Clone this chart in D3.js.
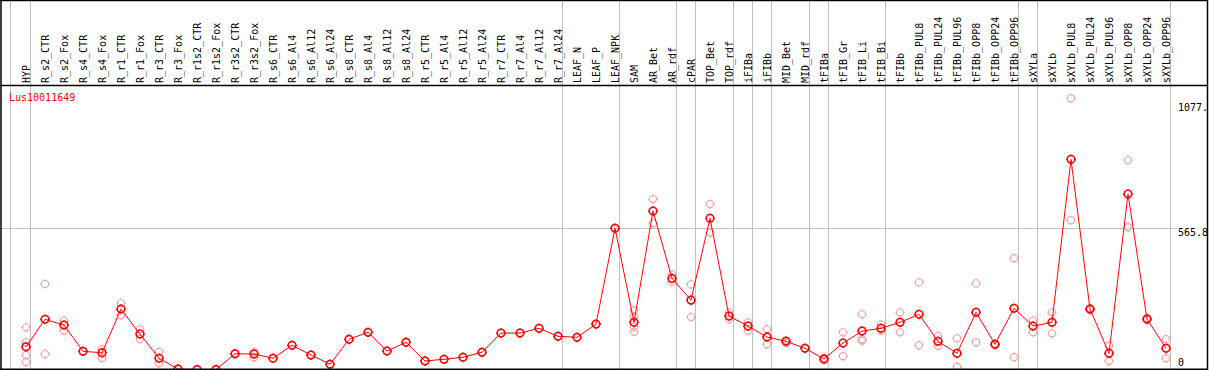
<!DOCTYPE html>
<html>
<head>
<meta charset="utf-8">
<script src="https://cdn.jsdelivr.net/npm/d3@7"></script>
<style>
  body { margin: 0; background: #fff; }
  svg { display: block; }
  text { font-family: "DejaVu Sans Mono", monospace; font-size: 10px; }
</style>
</head>
<body>
<svg id="chart" width="1209" height="370"></svg>
<script>
/*global d3*/

var gene = "Lus10011649";

var categories = [
  "HYP", "R_s2_CTR", "R_s2_Fox", "R_s4_CTR", "R_s4_Fox", "R_r1_CTR", "R_r1_Fox",
  "R_r3_CTR", "R_r3_Fox", "R_r1s2_CTR", "R_r1s2_Fox", "R_r3s2_CTR", "R_r3s2_Fox",
  "R_s6_CTR", "R_s6_Al4", "R_s6_Al12", "R_s6_Al24", "R_s8_CTR", "R_s8_Al4",
  "R_s8_Al12", "R_s8_Al24", "R_r5_CTR", "R_r5_Al4", "R_r5_Al12", "R_r5_Al24",
  "R_r7_CTR", "R_r7_Al4", "R_r7_Al12", "R_r7_Al24", "LEAF_N", "LEAF_P", "LEAF_NPK",
  "SAM", "AR_Bet", "AR_rdf", "cPAR", "TOP_Bet", "TOP_rdf", "iFIBa", "iFIBb",
  "MID_Bet", "MID_rdf", "tFIBa", "tFIB_Gr", "tFIB_Li", "tFIB_Bi", "tFIBb",
  "tFIBb_PUL8", "tFIBb_PUL24", "tFIBb_PUL96", "tFIBb_OPP8", "tFIBb_OPP24", "tFIBb_OPP96",
  "sXYLa", "sXYLb", "sXYLb_PUL8", "sXYLb_PUL24", "sXYLb_PUL96", "sXYLb_OPP8",
  "sXYLb_OPP24", "sXYLb_OPP96"
];

// last category of each sample group (a separator is drawn after it)
var groupEnds = [
  "HYP", "R_r7_Al24", "LEAF_NPK", "AR_rdf", "cPAR", "TOP_rdf", "iFIBa", "iFIBb",
  "MID_rdf", "tFIBa", "tFIB_Bi", "tFIBb_OPP96", "sXYLa", "sXYLb_OPP96"
];

var means = [
  91, 201, 178, 73, 67, 242, 142, 45, 2, 0, 0, 63, 62,
  45, 97, 58, 21, 121, 149, 74, 109, 34, 41, 49, 69,
  146, 146, 165, 133, 129, 182, 566,
  189, 635, 365, 278, 606, 214, 174, 130,
  113, 85, 42, 106, 154, 165, 189,
  221, 113, 65, 229, 101, 245,
  174, 189, 842, 242, 65, 703, 202, 85
];

var replicates = [
  [169, 109, 58, 30], [343, 62], [196, 156], [73], [81, 46], [265, 217], [161, 122],
  [71, 25], [2], [0], [0], [63], [70, 49],
  [45], [97], [58], [21], [121], [149], [74], [109], [34], [41], [49], [69],
  [146], [146], [165], [133], [129], [182], [566],
  [236, 212, 171, 151], [683, 586], [381, 352], [341, 210], [663, 548], [228, 201],
  [189, 155], [162, 101],
  [117, 107], [85], [47, 38], [149, 53], [221, 121, 115], [181, 155], [229, 149],
  [349, 97], [134, 95], [125, 11], [345, 109], [104, 98], [446, 49],
  [196, 149], [229, 145], [1087, 598], [246, 238], [95, 34], [839, 570], [206, 198],
  [122, 45]
];

var yTicks = [0, 565.8, 1077];
var yTickLabels = ["0", "565.8", "1077."];
var yGrid = [565.8];

var W = 1209, H = 370,
  headerBottom = 85.5,
  lineColor = "#ff0000",
  repColor = "#f0a0a0",
  gridColor = "#c0c0c0";

var svg = d3.select("#chart");

var x = d3.scalePoint()
  .domain(categories)
  .range([26, 1166]);

var y = d3.scaleLinear()
  .domain([0, 1077])
  .range([369.5, 369.5 - 1077 * 0.24956]);

// vertical group separators
var sepX = [x(categories[0]) - 16].concat(groupEnds.map(function (c) {
  return x(c) + 4;
}));

svg.selectAll(".vsep")
  .data(sepX)
  .enter()
  .append("line")
  .attr("class", "vsep")
  .attr("x1", function (d) { return Math.floor(d) + 0.5; })
  .attr("x2", function (d) { return Math.floor(d) + 0.5; })
  .attr("y1", 0)
  .attr("y2", H)
  .attr("stroke", gridColor)
  .attr("stroke-width", 1);

// horizontal grid
svg.selectAll(".hgrid")
  .data(yGrid)
  .enter()
  .append("line")
  .attr("class", "hgrid")
  .attr("x1", 0)
  .attr("x2", 1177)
  .attr("y1", function (d) { return Math.round(y(d)) + 0.5; })
  .attr("y2", function (d) { return Math.round(y(d)) + 0.5; })
  .attr("stroke", gridColor)
  .attr("stroke-width", 1);

// header labels, rotated
svg.selectAll(".cat")
  .data(categories)
  .enter()
  .append("text")
  .attr("class", "cat")
  .attr("transform", function (d) {
    return "translate(" + (x(d) + 3.5) + "," + 83 + ") rotate(-90)";
  })
  .attr("text-anchor", "start")
  .attr("fill", "#000")
  .text(function (d) { return d; });

// right axis labels
var tickDy = [-4, 8, 10];
svg.selectAll(".ylab")
  .data(yTicks)
  .enter()
  .append("text")
  .attr("class", "ylab")
  .attr("x", 1178)
  .attr("y", function (d, i) { return y(d) + tickDy[i]; })
  .attr("fill", "#000")
  .text(function (d, i) { return yTickLabels[i]; });

// gene name
svg.append("text")
  .attr("x", 9)
  .attr("y", 101)
  .attr("fill", lineColor)
  .text(gene);

// marker: circle with little stubs on the four sides
var drawMarker = function (g, color, r, sw) {
  g.append("circle")
    .attr("r", r)
    .attr("fill", "none")
    .attr("stroke", color)
    .attr("stroke-width", sw);
  g.append("path")
    .attr("d", "M0," + (-r - 1.2) + "V" + (-r) +
      "M0," + r + "V" + (r + 1.2) +
      "M" + (-r - 1.2) + ",0H" + (-r) +
      "M" + r + ",0H" + (r + 1.2))
    .attr("stroke", color)
    .attr("stroke-width", 1);
};

var plot = svg.append("g");

// replicate points
var reps = [];
replicates.forEach(function (vals, i) {
  vals.forEach(function (v) {
    reps.push({ cat: categories[i], value: v });
  });
});

plot.selectAll(".rep")
  .data(reps)
  .enter()
  .append("g")
  .attr("class", "rep")
  .attr("transform", function (d) {
    return "translate(" + x(d.cat) + "," + y(d.value) + ")";
  })
  .each(function () {
    drawMarker(d3.select(this), repColor, 3.6, 1.1);
  });

// mean line
var meanData = categories.map(function (c, i) {
  return { cat: c, value: means[i] };
});

plot.append("path")
  .datum(meanData)
  .attr("fill", "none")
  .attr("stroke", lineColor)
  .attr("stroke-width", 1)
  .attr("d", d3.line()
    .x(function (d) { return x(d.cat); })
    .y(function (d) { return y(d.value); }));

plot.selectAll(".mean")
  .data(meanData)
  .enter()
  .append("g")
  .attr("class", "mean")
  .attr("transform", function (d) {
    return "translate(" + x(d.cat) + "," + y(d.value) + ")";
  })
  .each(function () {
    drawMarker(d3.select(this), lineColor, 3.8, 1.6);
  });

// frame
var frame = [
  [0, 0.5, 1208, 0.5],
  [0, headerBottom, 1208, headerBottom],
  [0, 369.3, 1208, 369.3],
  [1, 0, 1, H],
  [1207.5, 0, 1207.5, H]
];
svg.selectAll(".frame")
  .data(frame)
  .enter()
  .append("line")
  .attr("class", "frame")
  .attr("x1", function (d) { return d[0]; })
  .attr("y1", function (d) { return d[1]; })
  .attr("x2", function (d) { return d[2]; })
  .attr("y2", function (d) { return d[3]; })
  .attr("stroke", "#000")
  .attr("stroke-width", 1.5);
</script>
</body>
</html>
